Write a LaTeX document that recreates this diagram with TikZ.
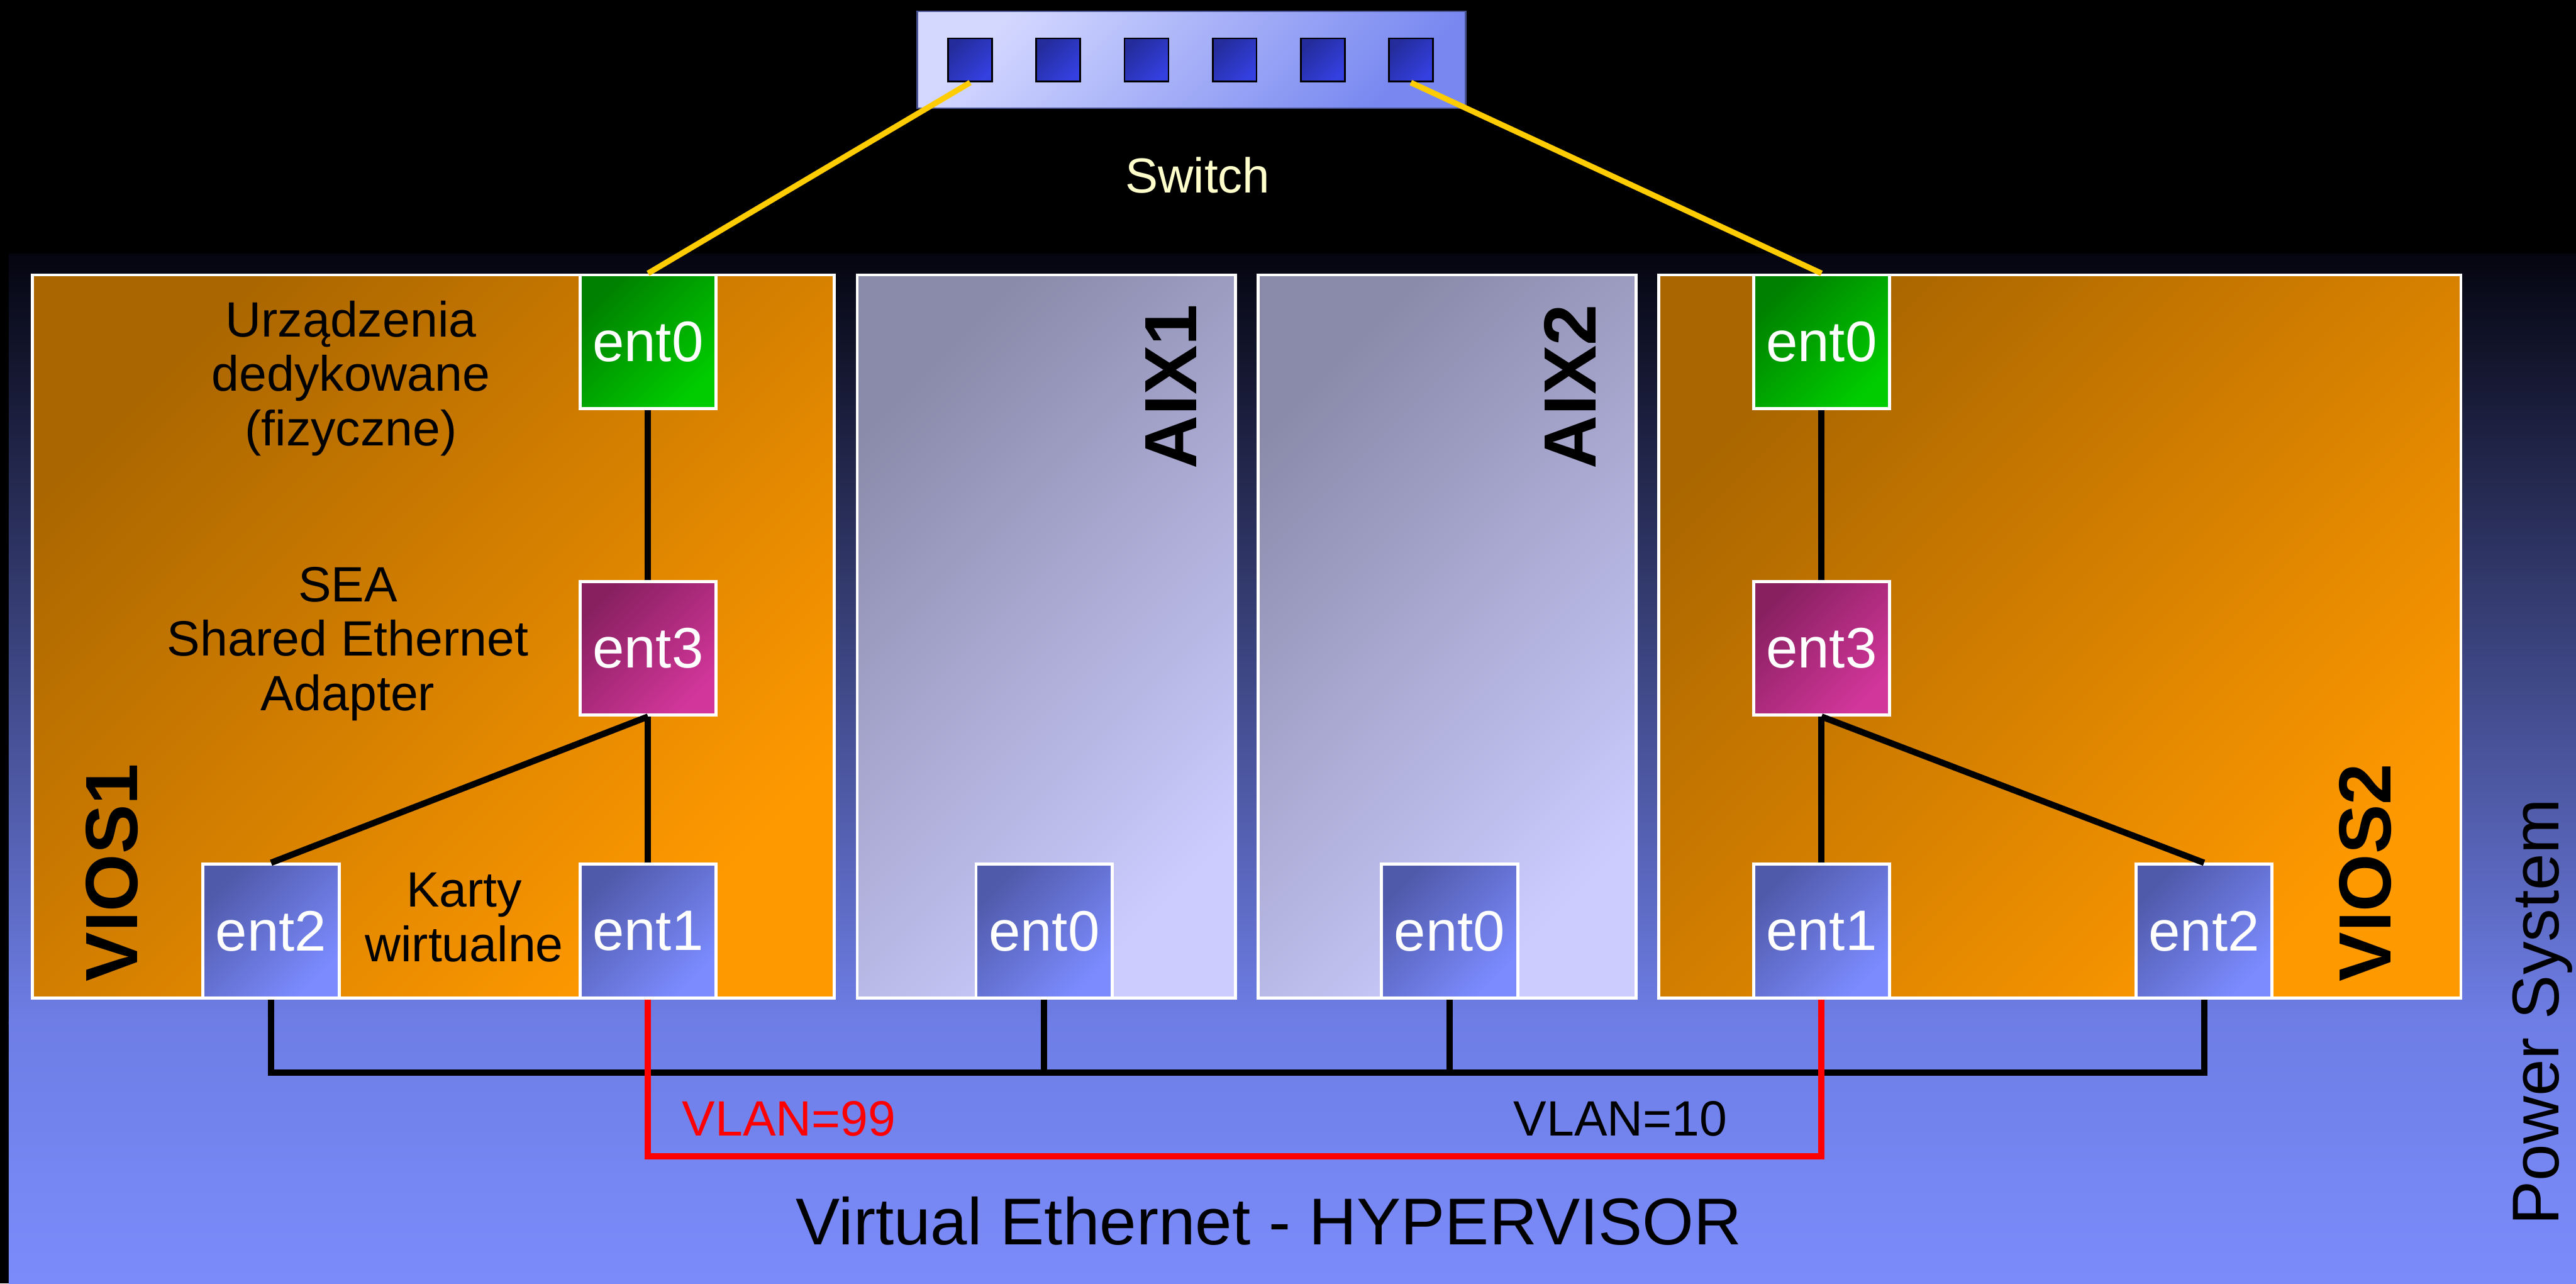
\documentclass[tikz,border=0pt]{standalone}
\usepackage{fontspec}
\setmainfont{Liberation Sans}
\usetikzlibrary{positioning}
\definecolor{VioOrangeDark}{RGB}{170,102,0}
\definecolor{VioOrange}{RGB}{255,153,0}
\definecolor{VioGrayDark}{RGB}{138,138,170}
\definecolor{VioLavender}{RGB}{204,204,255}
\definecolor{VioBlueDark}{RGB}{80,90,170}
\definecolor{VioBlueLight}{RGB}{124,140,255}
\definecolor{VioGreenDark}{RGB}{0,128,0}
\definecolor{VioGreen}{RGB}{0,204,0}
\definecolor{VioPlumDark}{RGB}{136,32,96}
\definecolor{VioPlum}{RGB}{210,54,154}
\definecolor{VioSwitchLight}{RGB}{212,216,255}
\definecolor{VioSwitchDark}{RGB}{120,136,240}
\definecolor{VioPortDark}{RGB}{36,44,156}
\definecolor{VioPortLight}{RGB}{52,64,224}
\definecolor{VioPanelTop}{RGB}{5,5,16}
\definecolor{VioPanelMid}{RGB}{110,126,230}
\definecolor{VioPanelBottom}{RGB}{123,139,250}
\definecolor{VioCable}{RGB}{255,204,0}
\definecolor{VioCream}{RGB}{255,255,204}
\definecolor{VioRed}{RGB}{255,0,0}
\tikzset{
  vio/lpar/.style={
    draw=white,
    line width=0.7pt,
    top color=VioOrangeDark,
    bottom color=VioOrange,
    shading angle=45,
    minimum width=6.48cm,
    minimum height=5.84cm
  },
  vio/client/.style={
    draw=white,
    line width=0.7pt,
    top color=VioGrayDark,
    bottom color=VioLavender,
    shading angle=45,
    minimum width=3.055cm,
    minimum height=5.84cm
  },
  vio/ent/.style={
    draw=white,
    line width=0.7pt,
    minimum width=1.1cm,
    minimum height=1.08cm,
    inner sep=0pt,
    text=white,
    font=\fontsize{13.1}{15}\selectfont
  },
  vio/virt/.style={vio/ent, top color=VioBlueDark, bottom color=VioBlueLight, shading angle=45},
  vio/phys/.style={vio/ent, top color=VioGreenDark, bottom color=VioGreen, shading angle=45},
  vio/sea/.style={vio/ent, top color=VioPlumDark, bottom color=VioPlum, shading angle=45},
  vio/port/.style={
    draw=black,
    line width=0.4pt,
    top color=VioPortDark,
    bottom color=VioPortLight,
    shading angle=45,
    minimum width=0.355cm,
    minimum height=0.35cm,
    inner sep=0pt
  },
  vio/name/.style={rotate=90, anchor=west, inner sep=0pt, font=\fontsize{17}{20}\bfseries\selectfont},
  vio/note/.style={align=center, inner sep=0pt, font=\fontsize{11.4}{12.5}\selectfont},
  vio/title/.style={inner sep=0pt, font=\fontsize{15.2}{18}\selectfont},
  vio/link/.style={line width=1.45pt, draw=black},
  vio/cable/.style={line width=1.3pt, draw=VioCable},
  vio/vlan/.style={line width=1.45pt, draw=VioRed}
}
\begin{document}
\begin{tikzpicture}[x=1cm,y=1cm]
  \useasboundingbox (0,0) rectangle (20.81,10.365);
  \fill[black] (0,0) rectangle (20.81,10.365);
  \shade[top color=VioPanelTop, bottom color=VioPanelMid] (0.07,2.1) rectangle (20.81,8.315);
  \shade[top color=VioPanelMid, bottom color=VioPanelBottom] (0.07,0) rectangle (20.81,2.115);

  \node[draw=VioSwitchDark!60!black, line width=0.3pt, top color=VioSwitchLight, bottom color=VioSwitchDark,
        shading angle=45, minimum width=4.43cm, minimum height=0.785cm] (switch) at (9.625,9.8825) {};
  \foreach \i in {1,...,6}{
    \node[vio/port] (p\i) at ({7.8375+0.712*(\i-1)},9.88) {};
  }
  \node[text=VioCream, inner sep=0pt, font=\fontsize{11.3}{13}\selectfont] (switchlabel) at (9.675,8.95) {Switch};

  \node[vio/lpar] (vios1) at (3.5,5.225) {};
  \node[vio/client] (aix1) at (8.4525,5.225) {};
  \node[vio/client] (aix2) at (11.69,5.225) {};
  \node[vio/lpar] (vios2) at (16.64,5.225) {};

  \node[vio/name] (vios1name) at (0.905,2.43) {VIOS1};
  \node[vio/name] (aix1name) at (9.46,6.57) {AIX1};
  \node[vio/name] (aix2name) at (12.685,6.57) {AIX2};
  \node[vio/name] (vios2name) at (19.11,2.43) {VIOS2};

  \node[vio/phys] (v1e0) at (5.235,7.605) {ent0};
  \node[vio/sea] (v1e3) at (5.235,5.13) {ent3};
  \node[vio/virt] (v1e1) at (5.235,2.845) {ent1};
  \node[vio/virt] (v1e2) at (2.19,2.845) {ent2};
  \node[vio/virt] (a1e0) at (8.435,2.845) {ent0};
  \node[vio/virt] (a2e0) at (11.71,2.845) {ent0};
  \node[vio/phys] (v2e0) at (14.715,7.605) {ent0};
  \node[vio/sea] (v2e3) at (14.715,5.13) {ent3};
  \node[vio/virt] (v2e1) at (14.715,2.845) {ent1};
  \node[vio/virt] (v2e2) at (17.805,2.845) {ent2};

  \node[vio/note] (phystext) at (2.835,7.31) {Urządzenia\\dedykowane\\(fizyczne)};
  \node[vio/note] (seatext) at (2.81,5.165) {SEA\\Shared Ethernet\\Adapter};
  \node[vio/note] (virttext) at (3.75,2.955) {Karty\\wirtualne};

  \draw[vio/cable] (p1.south) -- (v1e0.north);
  \draw[vio/cable] (p6.south) -- (v2e0.north);

  \draw[vio/link] (v1e0.south) -- (v1e3.north);
  \draw[vio/link] (v1e3.south) -- (v1e1.north);
  \draw[vio/link] (v1e3.south) -- (v1e2.north);
  \draw[vio/link] (v2e0.south) -- (v2e3.north);
  \draw[vio/link] (v2e3.south) -- (v2e1.north);
  \draw[vio/link] (v2e3.south) -- (v2e2.north);

  \coordinate (bus) at (10,1.705);
  \coordinate (vlan) at (10,1.025);
  \draw[vio/link] (v1e2.south) |- (bus) -| (v2e2.south);
  \draw[vio/link] (a1e0.south) -- (a1e0.south |- bus);
  \draw[vio/link] (a2e0.south) -- (a2e0.south |- bus);
  \draw[vio/vlan] (v1e1.south) |- (vlan) -| (v2e1.south);

  \node[vio/note, text=VioRed, anchor=west] (vlan99) at (5.505,1.33) {VLAN=99};
  \node[vio/note, anchor=east] (vlan10) at (13.96,1.33) {VLAN=10};
  \node[vio/title] (hyper) at (10.25,0.505) {Virtual Ethernet - HYPERVISOR};
  \node[vio/title, rotate=90, anchor=west] (power) at (20.54,0.465) {Power System};
\end{tikzpicture}
\end{document}
